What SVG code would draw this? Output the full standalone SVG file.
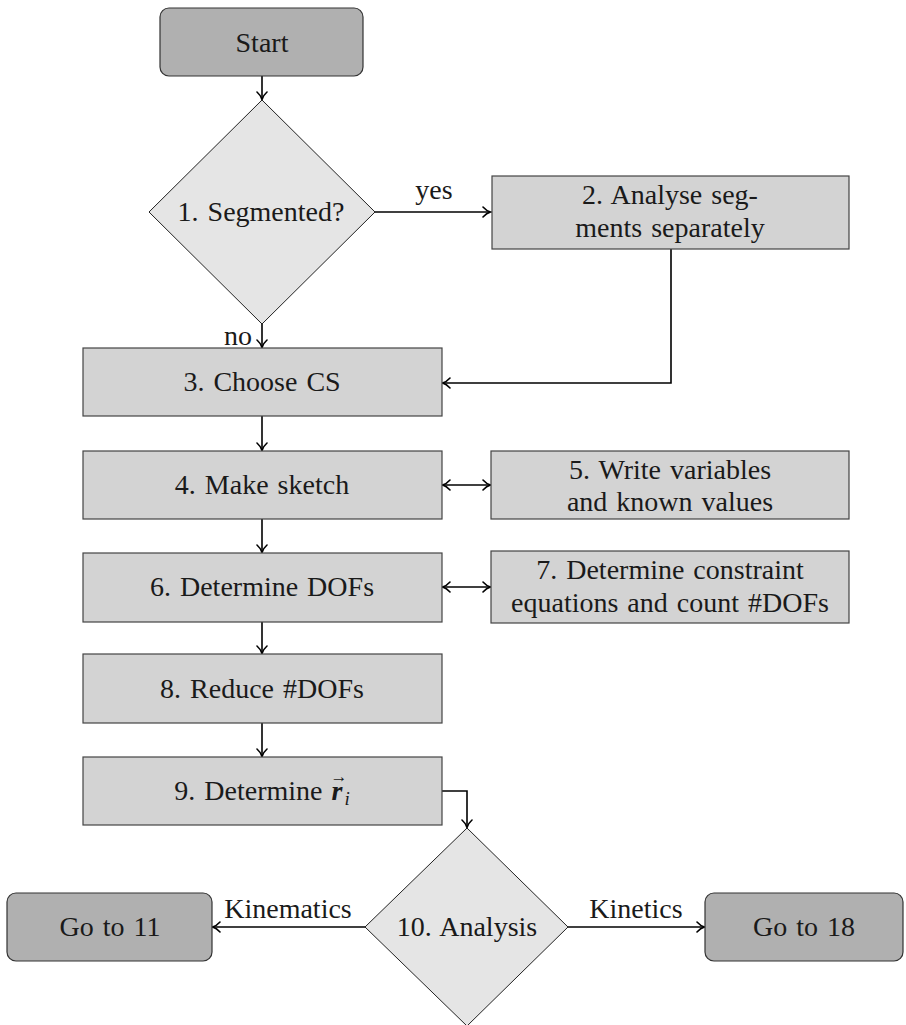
<svg xmlns="http://www.w3.org/2000/svg" width="906" height="1025" viewBox="0 0 906 1025">
  <style>
    text { font-family: "Liberation Serif", "Times New Roman", serif; font-size: 28px; fill: #1a1a1a; text-anchor: middle; }
    .node text { word-spacing: 2px; }
    .term { fill: #b0b0b0; stroke: #333333; stroke-width: 1.2; }
    .proc { fill: #d3d3d3; stroke: #444444; stroke-width: 1.2; }
    .dec  { fill: #e5e5e5; stroke: #222222; stroke-width: 1; }
    .conn { fill: none; stroke: #000000; stroke-width: 1.6; }
  </style>
  <defs>
    <marker id="arrow" viewBox="-8 -6 10 12" refX="0" refY="0" markerWidth="10" markerHeight="12" markerUnits="userSpaceOnUse" orient="auto-start-reverse">
      <path d="M -7 -5 C -4.5 -2.2 -1.8 -0.6 0.5 0 C -1.8 0.6 -4.5 2.2 -7 5" fill="none" stroke="#000" stroke-width="1.6" stroke-linecap="round"/>
    </marker>
  </defs>

  <!-- connectors -->
  <g id="connectors">
    <path class="conn" d="M262 76 V99" marker-end="url(#arrow)"/>
    <path class="conn" d="M375 212 H490" marker-end="url(#arrow)"/>
    <path class="conn" d="M262 324 V347" marker-end="url(#arrow)"/>
    <path class="conn" d="M671 249 V383 H443" marker-end="url(#arrow)"/>
    <path class="conn" d="M262 416 V450" marker-end="url(#arrow)"/>
    <path class="conn" d="M443 485 H490" marker-start="url(#arrow)" marker-end="url(#arrow)"/>
    <path class="conn" d="M262 519 V552" marker-end="url(#arrow)"/>
    <path class="conn" d="M443 587 H490" marker-start="url(#arrow)" marker-end="url(#arrow)"/>
    <path class="conn" d="M262 622 V653" marker-end="url(#arrow)"/>
    <path class="conn" d="M262 723 V756" marker-end="url(#arrow)"/>
    <path class="conn" d="M442 791 H467 V827" marker-end="url(#arrow)"/>
    <path class="conn" d="M365 927 H213" marker-end="url(#arrow)"/>
    <path class="conn" d="M568 927 H704" marker-end="url(#arrow)"/>
    <text x="434" y="199">yes</text>
    <text x="238" y="345">no</text>
    <text x="288" y="918">Kinematics</text>
    <text x="636" y="918">Kinetics</text>
  </g>

  <g id="start" class="node">
    <rect class="term" x="160" y="8" width="203" height="68" rx="9"/>
    <text x="262" y="52">Start</text>
  </g>

  <g id="n1" class="node">
    <polygon class="dec" points="262,100 375,212 262,324 149,212"/>
    <text x="261" y="221">1. Segmented?</text>
  </g>

  <g id="n2" class="node">
    <rect class="proc" x="492" y="176" width="357" height="73"/>
    <text x="670" y="204">2. Analyse seg-</text>
    <text x="670" y="237">ments separately</text>
  </g>

  <g id="n3" class="node">
    <rect class="proc" x="83" y="348" width="359" height="68"/>
    <text x="262" y="391">3. Choose CS</text>
  </g>

  <g id="n4" class="node">
    <rect class="proc" x="83" y="451" width="359" height="68"/>
    <text x="262" y="494">4. Make sketch</text>
  </g>

  <g id="n5" class="node">
    <rect class="proc" x="491" y="451" width="358" height="68"/>
    <text x="670" y="479">5. Write variables</text>
    <text x="670" y="511">and known values</text>
  </g>

  <g id="n6" class="node">
    <rect class="proc" x="83" y="553" width="359" height="69"/>
    <text x="262" y="596">6. Determine DOFs</text>
  </g>

  <g id="n7" class="node">
    <rect class="proc" x="491" y="551" width="358" height="72"/>
    <text x="670" y="579">7. Determine constraint</text>
    <text x="670" y="612">equations and count #DOFs</text>
  </g>

  <g id="n8" class="node">
    <rect class="proc" x="83" y="654" width="359" height="69"/>
    <text x="262" y="698">8. Reduce #DOFs</text>
  </g>

  <g id="n9" class="node">
    <rect class="proc" x="83" y="757" width="359" height="68"/>
    <!-- position vector r with arrow accent and subscript i -->
    <text x="262" y="800">9. Determine <tspan font-weight="bold" font-style="italic">r</tspan><tspan font-size="17" dx="-12" dy="-18">→</tspan><tspan font-style="italic" font-size="19" dx="-3" dy="23">i</tspan></text>
  </g>

  <g id="n10" class="node">
    <polygon class="dec" points="467,828 568,927 467,1026 365,927"/>
    <text x="467" y="936">10. Analysis</text>
  </g>

  <g id="go11" class="node">
    <rect class="term" x="7" y="893" width="205" height="68" rx="9"/>
    <text x="110" y="936">Go to 11</text>
  </g>

  <g id="go18" class="node">
    <rect class="term" x="705" y="893" width="198" height="68" rx="9"/>
    <text x="804" y="936">Go to 18</text>
  </g>
</svg>
